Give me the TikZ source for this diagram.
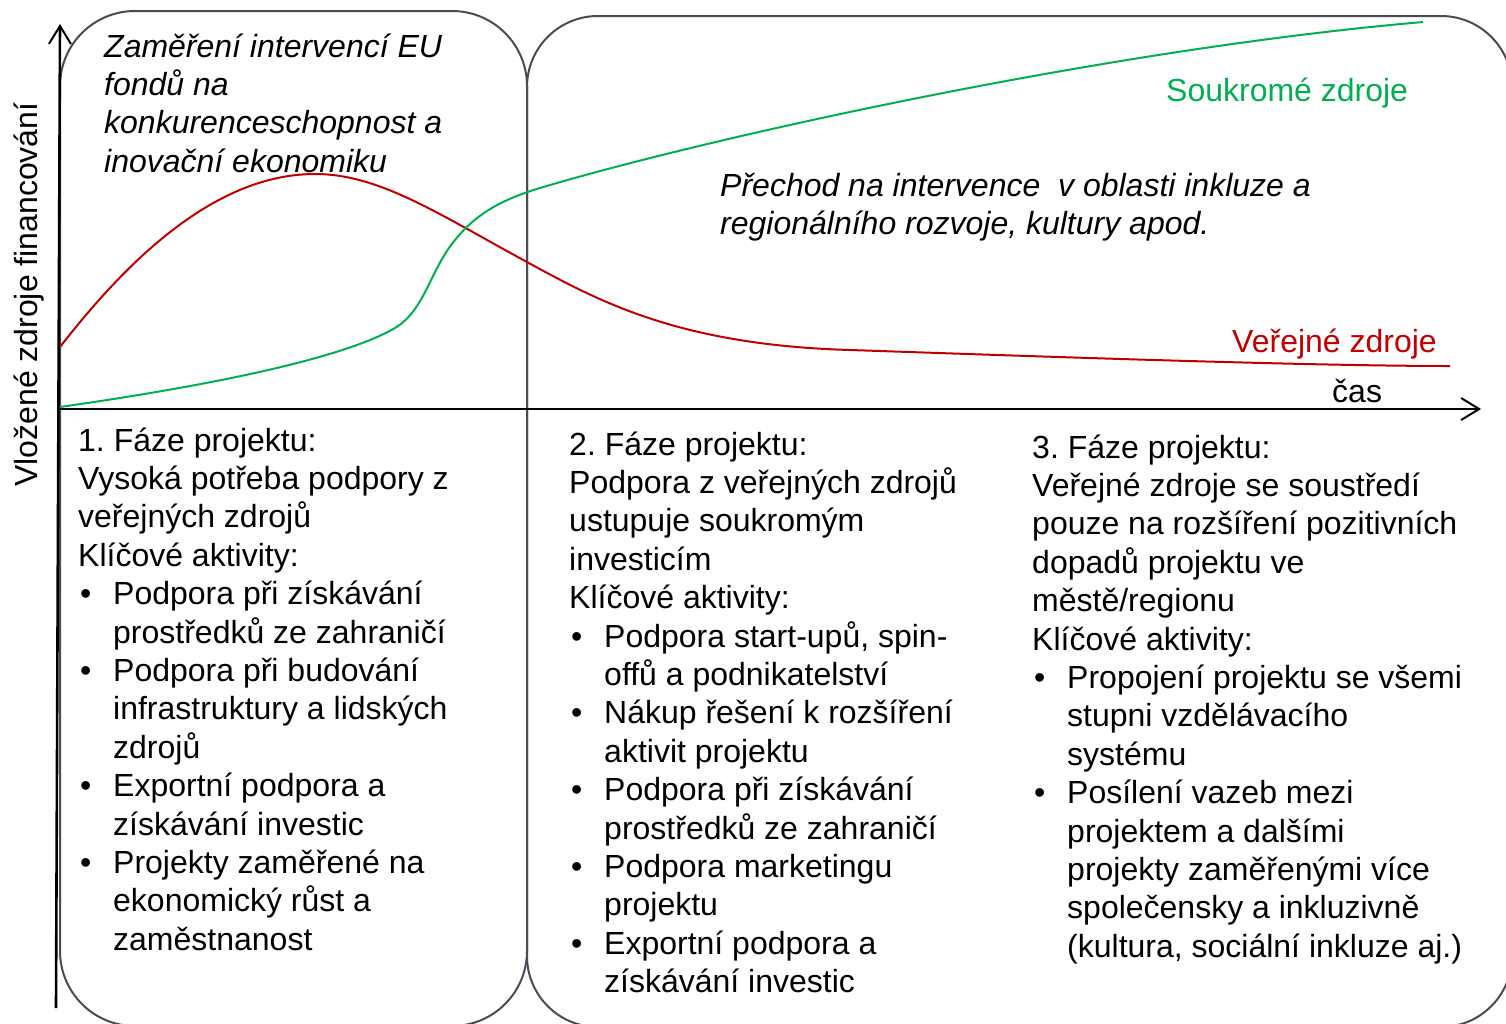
\documentclass[tikz,border=0pt]{standalone}
\usepackage{fontspec}
\setmainfont{Liberation Sans}
\usetikzlibrary{arrows.meta}
\definecolor{boxc}{RGB}{75,75,88}
\definecolor{grn}{RGB}{0,176,80}
\definecolor{rd}{RGB}{192,0,0}
\newcommand{\bl}{\makebox[35pt][l]{\hspace*{2pt}\textbullet}}
\newcommand{\ind}{\hspace*{35pt}}
\frenchspacing
\begin{document}
\frenchspacing
\begin{tikzpicture}[x=1pt,y=-1pt,
  phasebox/.style={draw=boxc, line width=2pt},
  axis/.style={line width=2.6pt, -{Straight Barb[length=18pt,width=22pt,line width=2pt]}},
  txt/.style={inner sep=0pt, anchor=base west, font=\fontsize{32}{38.4}\selectfont},
  curve/.style={line width=2pt}]
\useasboundingbox (0,0) rectangle (1506,1023);
\clip (0,0) rectangle (1506,1023);
\fill[white] (0,0) rectangle (1506,1023);

% phase boxes
\draw[phasebox, rounded corners=75pt] (60,11) rectangle (527,1026);
\draw[phasebox, rounded corners=71pt] (527,16) rectangle (1512,1027);

% curves
\draw[curve, rd] (60,347) .. controls (120,270) and (210,174) .. (315,174)
  .. controls (380,174) and (440,215) .. (527,262)
  .. controls (600,302) and (680,345) .. (850,350)
  .. controls (1000,355) and (1300,366) .. (1450,366);
\draw[curve, grn] (60,407) .. controls (200,387) and (340,360) .. (395,328)
  .. controls (425,310) and (430,270) .. (455,240)
  .. controls (475,215) and (500,200) .. (540,188)
  .. controls (700,140) and (1100,50) .. (1423,22);

% axes
\coordinate (O) at (57,409);
\coordinate (Ybot) at (56,1008);
\coordinate (Ytop) at (60,24);
\coordinate (Xend) at (1481,409);
\draw[axis] (Ybot) -- (Ytop);
\draw[axis] (O) -- (Xend);

% labels
\node[txt, rotate=90] (ylab) at (37,487) {Vložené zdroje financování};
\node[txt] (cas) at (1332,402) {čas};
\node[txt, text=grn] (soukr) at (1166,101) {Soukromé zdroje};
\node[txt, text=rd] (verej) at (1232,352) {Veřejné zdroje};

\node[txt, font=\fontsize{32}{38.4}\selectfont\itshape] (tit1) at (104,57) {\begin{tabular}[t]{@{}l@{}}Zaměření intervencí EU\\ fondů na\\ konkurenceschopnost a\\ inovační ekonomiku\end{tabular}};
\node[txt, font=\fontsize{32}{38.4}\selectfont\itshape] (tit2) at (720,196) {\begin{tabular}[t]{@{}l@{}}Přechod na intervence \ v oblasti inkluze a\\ regionálního rozvoje, kultury apod.\end{tabular}};

\node[txt] (ph1) at (78,451) {\begin{tabular}[t]{@{}l@{}}1. Fáze projektu:\\
Vysoká potřeba podpory z\\
veřejných zdrojů\\
Klíčové aktivity:\\
\bl Podpora při získávání\\
\ind prostředků ze zahraničí\\
\bl Podpora při budování\\
\ind infrastruktury a lidských\\
\ind zdrojů\\
\bl Exportní podpora a\\
\ind získávání investic\\
\bl Projekty zaměřené na\\
\ind ekonomický růst a\\
\ind zaměstnanost\end{tabular}};

\node[txt] (ph2) at (569,455) {\begin{tabular}[t]{@{}l@{}}2. Fáze projektu:\\
Podpora z veřejných zdrojů\\
ustupuje soukromým\\
investicím\\
Klíčové aktivity:\\
\bl Podpora start-upů, spin-\\
\ind offů a podnikatelství\\
\bl Nákup řešení k rozšíření\\
\ind aktivit projektu\\
\bl Podpora při získávání\\
\ind prostředků ze zahraničí\\
\bl Podpora marketingu\\
\ind projektu\\
\bl Exportní podpora a\\
\ind získávání investic\end{tabular}};

\node[txt] (ph3) at (1032,458) {\begin{tabular}[t]{@{}l@{}}3. Fáze projektu:\\
Veřejné zdroje se soustředí\\
pouze na rozšíření pozitivních\\
dopadů projektu ve\\
městě/regionu\\
Klíčové aktivity:\\
\bl Propojení projektu se všemi\\
\ind stupni vzdělávacího\\
\ind systému\\
\bl Posílení vazeb mezi\\
\ind projektem a dalšími\\
\ind projekty zaměřenými více\\
\ind společensky a inkluzivně\\
\ind (kultura, sociální inkluze aj.)\end{tabular}};
\end{tikzpicture}
\end{document}
